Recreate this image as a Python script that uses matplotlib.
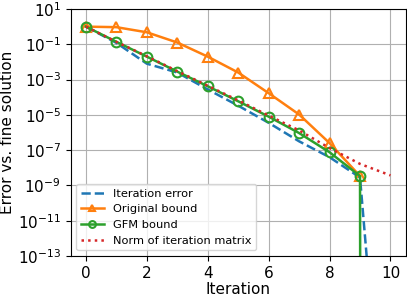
import numpy as np
import matplotlib
matplotlib.use('Agg')
import matplotlib.pyplot as plt
from matplotlib.ticker import NullLocator

iterations = [0, 1, 2, 3, 4, 5, 6, 7, 8, 9, 10]
bound_iters = [0, 1, 2, 3, 4, 5, 6, 7, 8, 9]

# log10 values
iteration_error = [0, -0.92, -2.1, -2.6, -3.56, -4.48, -5.45, -6.5, -7.4, -8.55, -29.0]
original_bound = [0, -0.03, -0.32, -0.9, -1.7, -2.6, -3.77, -4.98, -6.6, -8.47]
gfm_bound = [0, -0.86, -1.7, -2.55, -3.38, -4.23, -5.1, -6.03, -7.12, -8.47]
gfm_bound_10 = 0.0  # collapses to zero after the last iteration
norm_iter_matrix = [0, -0.86, -1.68, -2.52, -3.35, -4.18, -5.04, -5.88, -6.88, -7.78, -8.43]

err = 10.0 ** np.array(iteration_error)
orig = 10.0 ** np.array(original_bound)
gfm = np.append(10.0 ** np.array(gfm_bound), gfm_bound_10)
norm = 10.0 ** np.array(norm_iter_matrix)

fig = plt.figure(figsize=(4.07, 2.96), dpi=100)
ax = fig.add_axes([0.1737, 0.1351, 0.8231, 0.8345])

ax.plot(iterations, err, '--', color='C0', lw=1.8, label='Iteration error')
ax.plot(bound_iters, orig, '-^', color='C1', lw=1.8, ms=7, mfc='none', mew=1.5, label='Original bound')
ax.plot(iterations, gfm, '-o', color='C2', lw=1.8, ms=7, mfc='none', mew=1.5, label='GFM bound')
ax.plot(iterations, norm, ':', color='C3', lw=1.8, label='Norm of iteration matrix')

ax.set_yscale('log')
ax.set_ylim(1e-13, 1e1)
ax.set_xlim(-0.5, 10.5)
ax.set_yticks([10.0 ** k for k in range(1, -14, -2)])
ax.yaxis.set_minor_locator(NullLocator())
ax.set_xticks([0, 2, 4, 6, 8, 10])
ax.tick_params(labelsize=11)
ax.grid(True, color='#b0b0b0', lw=0.8)

ax.set_xlabel('Iteration', fontsize=11, labelpad=1)
ax.set_ylabel('Error vs. fine solution', fontsize=11, labelpad=2)
ax.legend(loc='lower left', fontsize=8.2, handlelength=2.0, borderaxespad=0.5, markerscale=0.7)

fig.savefig('out.png', dpi=100)
